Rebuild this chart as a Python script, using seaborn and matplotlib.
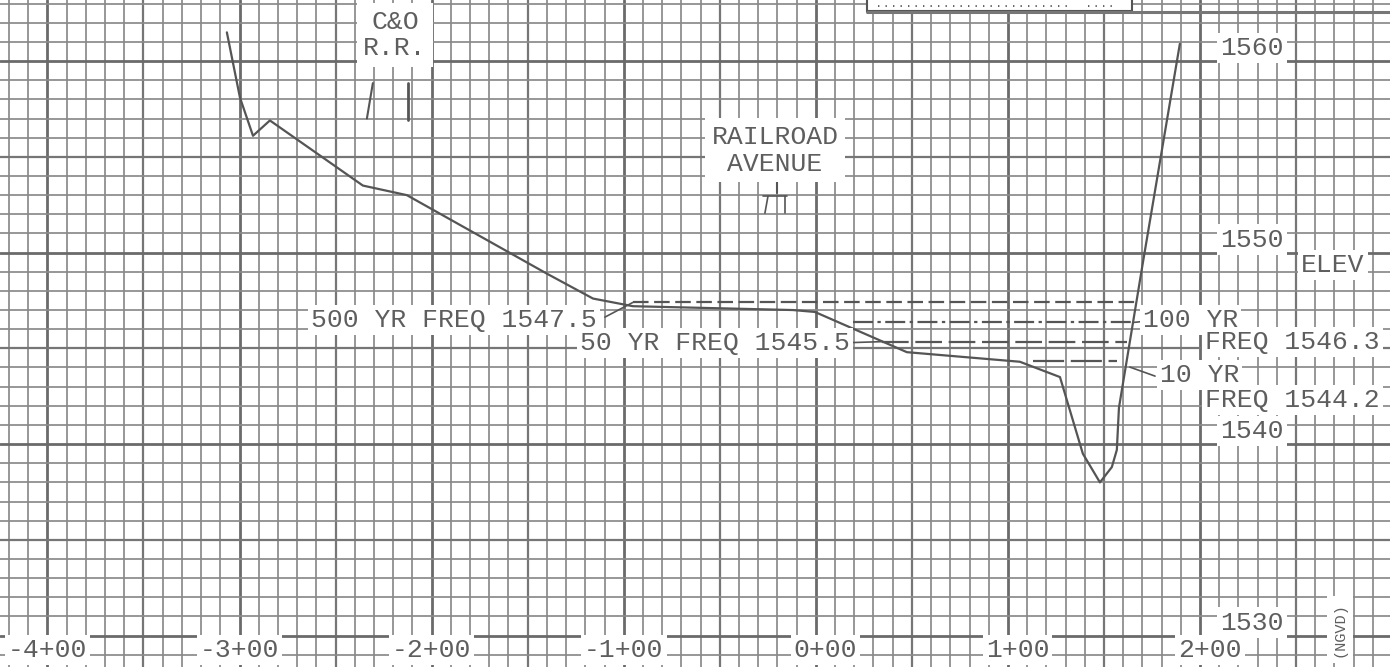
import numpy as np
import pandas as pd
import matplotlib
matplotlib.use("Agg")
import matplotlib.pyplot as plt
import seaborn as sns
from matplotlib.patches import Rectangle

# ---------------- data ----------------
# ground profile: station (ft) and elevation (ft)
station = [-306.6, -299.8, -293.0, -284.2, -235.8, -212.9, -140.0, -116.0, -95.2,
           -11.9, -0.5, 47.4, 106.2, 127.1, 139.0, 147.9, 154.1, 156.7, 157.8,
           170.3, 189.5]
elevation = [1561.5, 1558.1, 1556.1, 1556.9, 1553.5, 1553.0, 1548.9, 1547.6, 1547.2,
             1547.0, 1546.9, 1544.8, 1544.3, 1543.5, 1539.5, 1538.0, 1538.8, 1539.7,
             1541.9, 1549.5, 1560.9]

# flood water surfaces
flood_names = ["500 YR", "100 YR", "50 YR", "10 YR"]
flood_elev = [1547.4, 1546.35, 1545.35, 1544.35]
flood_start = [-95.2, 19.3, 34.5, 113.0]
flood_end = [166.6, 165.1, 162.0, 156.7]

# axis labels
station_ticks = [-400, -300, -200, -100, 0, 100, 200]
station_labels = ["-4+00", "-3+00", "-2+00", "-1+00", "0+00", "1+00", "2+00"]
elev_ticks = [1530, 1540, 1550, 1560]
elev_labels = ["1530", "1540", "1550", "1560"]

# ---------------- style ----------------
sns.set_theme(style="white")
plt.rcParams["font.family"] = ["Liberation Mono", "DejaVu Sans Mono"]

INK = "#555555"
TXT = "#5e5e5e"
FS = 19

fig = plt.figure(figsize=(13.9, 6.67), dpi=100)
ax = fig.add_axes([0, 0, 1, 1])
XMIN, XMAX = -424.7, 298.9
YMIN, YMAX = 1528.36, 1563.19
ax.set_xlim(XMIN, XMAX)
ax.set_ylim(YMIN, YMAX)
for s in ax.spines.values():
    s.set_visible(False)
ax.set_xticks([])
ax.set_yticks([])

# ---- graph paper ----
for xv in np.arange(-420, 300, 10):
    if xv % 100 == 0:
        lw, c = 2.0, "#6a6a6a"
    elif xv % 50 == 0:
        lw, c = 1.6, "#767676"
    else:
        lw, c = 1.25, "#8a8a8a"
    ax.axvline(xv, color=c, lw=lw, zorder=0)
for yv in np.arange(1529, 1564, 1):
    if yv % 10 == 0:
        lw, c = 2.0, "#6a6a6a"
    elif yv % 5 == 0:
        lw, c = 1.6, "#767676"
    else:
        lw, c = 1.25, "#8a8a8a"
    ax.axhline(yv, color=c, lw=lw, zorder=0)

# ---- ground profile ----
ground = pd.DataFrame({"station": station, "elevation": elevation})
sns.lineplot(data=ground, x="station", y="elevation", sort=False, ax=ax,
             color=INK, lw=1.6, zorder=3, estimator=None)

# ---- flood lines ----
flood_dash = [(0, (7, 2.5)), (0, (9, 2, 1.5, 2)), (0, (12, 3)), (0, (14, 3))]
for name, e, s0, s1, ls in zip(flood_names, flood_elev, flood_start, flood_end, flood_dash):
    df = pd.DataFrame({"station": [s0, s1], "elevation": [e, e]})
    sns.lineplot(data=df, x="station", y="elevation", ax=ax, color=INK,
                 lw=1.6, linestyle=ls, zorder=3, estimator=None)

# leader lines
ax.plot([-109.8, -95.2], [1546.63, 1547.4], color=INK, lw=1.2, zorder=3)
ax.plot([18.5, 34.5], [1545.3, 1545.35], color=INK, lw=1.2, zorder=3)
ax.plot([163.5, 176.6], [1544.02, 1543.55], color=INK, lw=1.2, zorder=3)
ax.plot([165.0, 170.0], [1546.35, 1546.4], color=INK, lw=1.2, zorder=3)

box = dict(boxstyle="square,pad=0.12", facecolor="white", edgecolor="none")
tk = dict(color=TXT, fontsize=FS, zorder=5, bbox=box)

# flood labels
ax.text(-113.9, 1546.47, "500 YR FREQ 1547.5", ha="right", va="center", **tk)
ax.text(17.7, 1545.27, "50 YR FREQ 1545.5", ha="right", va="center", **tk)
ax.text(170.3, 1546.47, "100 YR", ha="left", va="center", **tk)
ax.text(202.6, 1545.33, "FREQ 1546.3", ha="left", va="center", **tk)
ax.text(179.1, 1543.60, "10 YR", ha="left", va="center", **tk)
ax.text(202.6, 1542.30, "FREQ 1544.2", ha="left", va="center", **tk)

# elevation labels
for e, lab in zip(elev_ticks, elev_labels):
    ax.text(227.0, e + 0.05, lab, ha="center", va="bottom", **tk)
ax.text(269.1, 1549.35, "ELEV", ha="center", va="center", **tk)

# station labels
for s, lab in zip(station_ticks, station_labels):
    off = 5 if not lab.startswith("-") else 0
    ax.text(s + off, 1529.24, lab, ha="center", va="center", **tk)

# feature labels
box2 = dict(boxstyle="square,pad=0.25", facecolor="white", edgecolor="none")
ax.text(-219.1, 1561.36, "C&O\nR.R.", ha="center", va="center", color=TXT,
        fontsize=FS, zorder=5, bbox=box2, linespacing=1.15)
ax.text(-21.3, 1555.35, "RAILROAD\nAVENUE", ha="center", va="center", color=TXT,
        fontsize=FS, zorder=5, bbox=box2, linespacing=1.15)

# railroad rail marks
ax.plot([-230.6, -233.7], [1558.85, 1557.0], color=INK, lw=1.5, zorder=3)
ax.plot([-212.3, -212.3], [1558.85, 1556.9], color=INK, lw=2.0, zorder=3)
# avenue symbol
ax.plot([-20.2, -20.2], [1553.79, 1553.1], color=INK, lw=1.5, zorder=3)
ax.plot([-27.5, -15.0], [1552.95, 1552.95], color=INK, lw=1.2, zorder=3)
ax.plot([-24.9, -26.5], [1552.95, 1552.06], color=INK, lw=1.2, zorder=3)
ax.plot([-16.1, -16.1], [1552.95, 1552.06], color=INK, lw=1.2, zorder=3)

# title block at top right
ax.add_patch(Rectangle((26.6, 1562.64), 137.9, 2.0, facecolor="white",
                       edgecolor=INK, lw=1.5, zorder=4))
ax.plot([26.6, XMAX], [1562.56, 1562.56], color="#777777", lw=2.2, zorder=4)
ax.text(31, 1562.98, "." * 26 + "  " + "." * 4, ha="left", va="center",
        color=TXT, fontsize=9, zorder=5)

# rotated axis label at the bottom right
ax.text(272.8, 1530.3, "(NGVD)", rotation=90, ha="center", va="center",
        color=TXT, fontsize=11, zorder=5,
        bbox=dict(boxstyle="square,pad=0.4", facecolor="white", edgecolor="none"))

fig.savefig("out.png", dpi=100)
